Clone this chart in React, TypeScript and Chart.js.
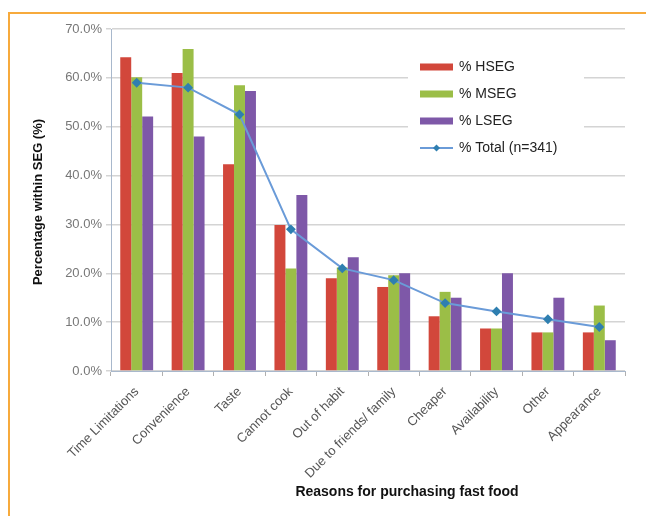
import React, { useEffect, useRef } from "react";
import { Chart, registerables } from "chart.js";

Chart.register(...registerables);

const categories = [
  "Time Limitations",
  "Convenience",
  "Taste",
  "Cannot cook",
  "Out of habit",
  "Due to friends/ family",
  "Cheaper",
  "Availability",
  "Other",
  "Appearance",
];
const hseg = [64.2, 61.0, 42.3, 29.9, 19.0, 17.2, 11.2, 8.7, 7.9, 7.9];
const mseg = [60.1, 65.9, 58.5, 21.0, 21.2, 19.6, 16.2, 8.7, 7.9, 13.4];
const lseg = [52.1, 48.0, 57.3, 36.0, 23.3, 20.0, 15.0, 20.0, 15.0, 6.3];
const total = [59.0, 58.0, 52.5, 29.0, 21.0, 18.6, 13.9, 12.2, 10.6, 9.0];
const yTicks = [0, 10, 20, 30, 40, 50, 60, 70];
const seriesNames = ["% HSEG", "% MSEG", "% LSEG", "% Total (n=341)"];
const xTitle = "Reasons for purchasing fast food";
const yTitle = "Percentage within SEG (%)";

const RED = "#D2473B";
const GREEN = "#9BBE47";
const PURPLE = "#7E58A8";
const LINE = "#6A9BD8";
const MARK = "#2F7FB0";
const FONT = "Arial, 'Liberation Sans', sans-serif";

export default function App() {
  const ref = useRef<HTMLCanvasElement | null>(null);

  useEffect(() => {
    if (!ref.current) return;
    const overlay = {
      id: "overlay",
      afterDraw(chart: any) {
        const ctx = chart.ctx;
        ctx.save();
        // legend box
        ctx.fillStyle = "#ffffff";
        ctx.fillRect(408, 50, 176, 115);
        const rows = [67, 94, 121, 148];
        const cols = [RED, GREEN, PURPLE];
        ctx.font = "14px " + FONT;
        ctx.textBaseline = "middle";
        ctx.textAlign = "left";
        rows.forEach((y, i) => {
          if (i < 3) {
            ctx.fillStyle = cols[i];
            ctx.fillRect(420, y - 3.5, 33, 7);
          } else {
            ctx.strokeStyle = LINE;
            ctx.lineWidth = 2;
            ctx.beginPath();
            ctx.moveTo(420, y);
            ctx.lineTo(453, y);
            ctx.stroke();
            ctx.fillStyle = MARK;
            ctx.beginPath();
            ctx.moveTo(436.5, y - 3.5);
            ctx.lineTo(440, y);
            ctx.lineTo(436.5, y + 3.5);
            ctx.lineTo(433, y);
            ctx.closePath();
            ctx.fill();
          }
          ctx.fillStyle = "#222";
          ctx.fillText(seriesNames[i], 459, y + 0.5);
        });
        // axis titles
        ctx.fillStyle = "#111";
        ctx.font = "bold 14px " + FONT;
        ctx.textAlign = "center";
        ctx.fillText(xTitle, 407, 492);
        ctx.translate(38, 202);
        ctx.rotate(-Math.PI / 2);
        ctx.font = "bold 13px " + FONT;
        ctx.fillText(yTitle, 0, 0);
        ctx.restore();
      },
    };

    const chart = new Chart(ref.current, {
      type: "bar",
      data: {
        labels: categories,
        datasets: [
          {
            type: "line",
            label: seriesNames[3],
            data: total,
            borderColor: LINE,
            backgroundColor: MARK,
            borderWidth: 2,
            pointStyle: "rectRot",
            pointRadius: 3.5,
            pointBackgroundColor: MARK,
            pointBorderColor: MARK,
            tension: 0,
            order: 0,
          } as any,
          { label: seriesNames[0], data: hseg, backgroundColor: RED, order: 1 },
          { label: seriesNames[1], data: mseg, backgroundColor: GREEN, order: 1 },
          { label: seriesNames[2], data: lseg, backgroundColor: PURPLE, order: 1 },
        ],
      },
      options: {
        responsive: false,
        animation: false,
        devicePixelRatio: 1,
        layout: { padding: { left: 20, top: 29, right: 21, bottom: 0 } },
        datasets: {
          bar: { barPercentage: 1.0, categoryPercentage: 0.64 },
        },
        plugins: {
          legend: { display: false },
          tooltip: { enabled: false },
          title: { display: false },
        },
        scales: {
          x: {
            offset: true,
            afterFit: (s: any) => {
              s.height = 145;
            },
            grid: {
              display: true,
              offset: true,
              drawOnChartArea: false,
              drawTicks: true,
              tickLength: 5,
              color: "#B0B0B0",
            },
            border: { display: true, color: "#A8B8CC", width: 1 },
            ticks: {
              maxRotation: 45,
              minRotation: 45,
              autoSkip: false,
              color: "#555",
              font: { family: FONT, size: 13 },
              padding: 8,
            },
          },
          y: {
            min: 0,
            max: 70,
            afterFit: (s: any) => {
              s.width = 91;
            },
            afterBuildTicks: (s: any) => {
              s.ticks = yTicks.map((v) => ({ value: v }));
            },
            grid: {
              color: "#D4D4D4",
              lineWidth: 1.5,
              tickLength: 5,
              drawTicks: true,
            },
            border: { display: true, color: "#A8B8CC", width: 1 },
            ticks: {
              color: "#777",
              font: { family: FONT, size: 13 },
              padding: 4,
              callback: (v: any) => Number(v).toFixed(1) + "%",
            },
          },
        },
      },
      plugins: [overlay],
    });
    return () => chart.destroy();
  }, []);

  return (
    <div style={{ position: "fixed", left: 0, top: 0, width: 646, height: 516, background: "#fff" }}>
      <div
        style={{
          position: "absolute",
          left: 8,
          top: 12,
          right: 0,
          bottom: 0,
          borderTop: "2px solid #F7AA3C",
          borderLeft: "2px solid #F7AA3C",
        }}
      />
      <canvas ref={ref} width={646} height={516} style={{ position: "absolute", left: 0, top: 0 }} />
    </div>
  );
}
